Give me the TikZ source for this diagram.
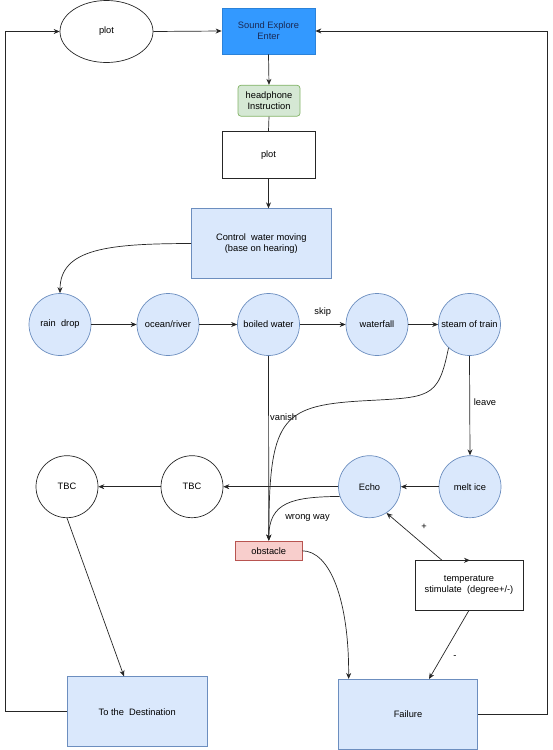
\documentclass[tikz,border=0pt]{standalone}
\usepackage{fontspec}
\setmainfont{Liberation Sans}
\usetikzlibrary{arrows.meta,shapes.geometric,calc}
\definecolor{lblue}{HTML}{DAE8FC}
\definecolor{lblueb}{HTML}{6C8EBF}
\definecolor{sblue}{HTML}{3399FF}
\definecolor{navy}{HTML}{1A2A55}
\definecolor{lgreen}{HTML}{D5E8D4}
\definecolor{lgreenb}{HTML}{82B366}
\definecolor{lred}{HTML}{F8CECC}
\definecolor{lredb}{HTML}{B85450}
\tikzset{
  every node/.style={font=\fontsize{9.3}{11}\selectfont, align=center, inner sep=0pt},
  bcirc/.style={circle, minimum size=62pt, fill=lblue, draw=lblueb, line width=0.7pt},
  wcirc/.style={circle, minimum size=62pt, fill=white, draw=black!85, line width=0.7pt},
  bbox/.style={rectangle, fill=lblue, draw=lblueb, line width=0.7pt},
  wbox/.style={rectangle, fill=white, draw=black!85, line width=0.7pt},
  arr/.style={line width=0.7pt, draw=black!85, -{Stealth[length=6pt,width=5pt]}},
  ln/.style={line width=0.7pt, draw=black!85},
  lab/.style={font=\fontsize{9.3}{11}\selectfont}
}
\begin{document}
\begin{tikzpicture}[x=1pt,y=-1pt]
\useasboundingbox (0,0) rectangle (553,750);
% top
\node[ellipse, draw=black!85, line width=0.7pt, minimum width=93pt, minimum height=62pt] (plotE) at (106.5,31.5) {plot};
\node[rectangle, fill=sblue, draw=sblue!85!black, line width=0.7pt, minimum width=93pt, minimum height=46pt, text=navy] (sound) at (268.5,31) {Sound Explore\\Enter};
\node[rectangle, rounded corners=3pt, fill=lgreen, draw=lgreenb, line width=0.7pt, minimum width=62pt, minimum height=31pt] (head) at (269,100.7) {headphone\\Instruction};
\node[wbox, minimum width=93pt, minimum height=47pt] (plotR) at (268.5,154.7) {plot};
\node[bbox, minimum width=139.5pt, minimum height=69.6pt] (control) at (261.3,243.5) {Control\ \ water moving\\(base on hearing)};
% row 1
\node[bcirc] (rain) at (60,324.5) {rain\ \ drop};
\node[bcirc] (ocean) at (168,324.5) {ocean/river};
\node[bcirc] (boiled) at (268.5,324.5) {boiled water};
\node[bcirc] (waterfall) at (377,324.5) {waterfall};
\node[bcirc] (steam) at (469.5,324.5) {steam of train};
% row 2
\node[wcirc] (tbc1) at (67,486.7) {TBC};
\node[wcirc] (tbc2) at (192,486.7) {TBC};
\node[bcirc] (echo) at (369.5,486.7) {Echo};
\node[bcirc] (melt) at (470,486.7) {melt ice};
% lower
\node[rectangle, fill=lred, draw=lredb, line width=0.7pt, minimum width=66.3pt, minimum height=19.7pt] (obstacle) at (268.8,550.8) {obstacle};
\node[wbox, minimum width=108pt, minimum height=49.3pt] (temp) at (469,585.3) {temperature\\stimulate\ \ (degree+/-)};
\node[bbox, minimum width=139.5pt, minimum height=70pt] (dest) at (137.2,711.7) {To the\ \ Destination};
\node[bbox, minimum width=139pt, minimum height=70pt] (fail) at (408,714.3) {Failure};
% connectors top
\draw[arr] (plotE.east) -- (sound.west);
\draw[arr] (dest.west) -- ++(-61.5,0) |- (plotE.west);
\draw[arr] (fail.east) -- ++(69,0) |- (sound.east);
\draw[arr] (sound.south) -- (head.north);
\draw[ln] (head.south) -- (plotR.north);
\draw[arr] (plotR.south) -- (plotR.south |- control.north);
\draw[arr] (control.west) .. controls (110,243.7) and (60,248) .. (rain.north);
% row 1
\draw[arr] (rain.east) -- (ocean.west);
\draw[arr] (ocean.east) -- (boiled.west);
\draw[arr] (boiled.east) -- node[lab, above=8pt] {skip} (waterfall.west);
\draw[arr] (waterfall.east) -- (steam.west);
\draw[arr] (boiled.south) -- (obstacle.north);
\node[lab, anchor=west] (vanish) at (270,417) {vanish};
\draw[arr] (steam.228) .. controls (438,400) and (430,397) .. (360,401) .. controls (280,406) and (269,420) .. (obstacle.north);
\draw[arr] (steam.south) -- (melt.north);
\node[lab] (leave) at (485,402) {leave};
% row 2
\draw[arr] (melt.west) -- (echo.east);
\draw[arr] (echo.west) -- (tbc2.east);
\draw[arr] (tbc2.west) -- (tbc1.east);
\draw[arr] (echo.198) .. controls (292,497) and (269,502) .. (obstacle.north);
\node[lab] (wrong) at (307.5,518.3) {wrong way};
% lower
\draw[arr] (obstacle.east) .. controls (330,551) and (349,600) .. ($(fail.north west)+(10.5,0)$);
\draw[arr] ($(temp.north)+(-27,0)$) -- (echo.-57);
\node[lab] (plus) at (424,526.7) {+};
\draw[arr] (temp.north) -- (temp.north -| melt.south);
\draw[arr] (temp.south) -- ($(fail.north)+(21,0)$);
\node[lab] (minus) at (455,656.7) {-};
\draw[arr] (tbc1.south) -- ($(dest.north)+(-13.2,0)$);
\end{tikzpicture}
\end{document}
